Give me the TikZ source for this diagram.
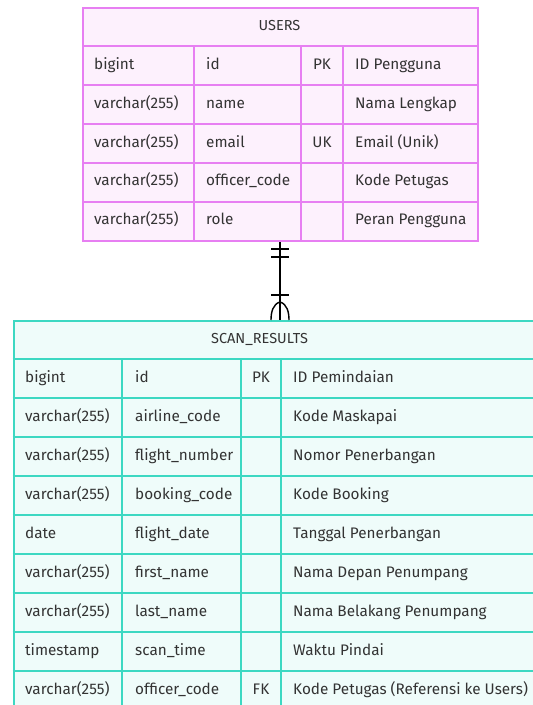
\documentclass[tikz,border=0pt]{standalone}
\usepackage{fontspec}
\setmainfont{Fira Sans}
\definecolor{ubord}{HTML}{E77FF2}
\definecolor{ufill}{HTML}{FDF1FD}
\definecolor{sbord}{HTML}{3DD8C2}
\definecolor{sfill}{HTML}{EFFCFA}
\definecolor{txt}{HTML}{333333}
\tikzset{
  cell/.style={anchor=west, inner sep=0pt, text height=11pt, text depth=3pt, text=txt, font=\fontsize{15.3}{17}\selectfont},
  keycell/.style={anchor=center, inner sep=0pt, text height=11pt, text depth=3pt, text=txt, font=\fontsize{15.3}{17}\selectfont},
  hdr/.style={anchor=center, inner sep=0pt, text height=11pt, text depth=3pt, text=txt, font=\fontsize{14.5}{17}\selectfont},
  ugrid/.style={draw=ubord, line width=2pt},
  sgrid/.style={draw=sbord, line width=2pt},
  rel/.style={draw=black, line width=1.4pt},
}
\begin{document}
\begin{tikzpicture}[x=1pt,y=-1pt]
\useasboundingbox (0,0) rectangle (533,705);
\fill[white] (0,0) rectangle (533,705);
% ---------- USERS ----------
\fill[black!18] (84,9) rectangle (479,242);
\node[ugrid, fill=ufill, minimum width=395pt, minimum height=233pt, inner sep=0pt, anchor=north west] (usersT) at (82,7) {};
\node[hdr] (usersH) at (279.5,26.5) {USERS};
\foreach \y in {46,85,124,163,202} \draw[ugrid] (82,\y) -- (477,\y);
\foreach \x in {194,301,343} \draw[ugrid] (\x,46) -- (\x,240);
\foreach \i/\a/\b/\c/\d in {0/bigint/id/PK/ID Pengguna,
  1/varchar(255)/name//Nama Lengkap,
  2/varchar(255)/email/UK/Email (Unik),
  3/varchar(255)/officer\_code//Kode Petugas,
  4/varchar(255)/role//Peran Pengguna}{
  \pgfmathsetmacro\yy{65.5+38.8*\i}
  \node[cell] (u\i a) at (94,\yy) {\a};
  \node[cell] (u\i b) at (206,\yy) {\b};
  \node[keycell] (u\i c) at (322,\yy) {\c};
  \node[cell] (u\i d) at (355,\yy) {\d};
}
% ---------- SCAN_RESULTS ----------
\node[sgrid, fill=sfill, minimum width=533pt, minimum height=400pt, inner sep=0pt, anchor=north west] (scanT) at (12.5,320) {};
\node[hdr] (scanH) at (259.5,339.5) {SCAN\_RESULTS};
\foreach \y in {359,398,437,476,515,554,593,632,671} \draw[sgrid] (12.5,\y) -- (545,\y);
\foreach \x in {122,241,281} \draw[sgrid] (\x,359) -- (\x,720);
\foreach \i/\a/\b/\c/\d in {0/bigint/id/PK/ID Pemindaian,
  1/varchar(255)/airline\_code//Kode Maskapai,
  2/varchar(255)/flight\_number//Nomor Penerbangan,
  3/varchar(255)/booking\_code//Kode Booking,
  4/date/flight\_date//Tanggal Penerbangan,
  5/varchar(255)/first\_name//Nama Depan Penumpang,
  6/varchar(255)/last\_name//Nama Belakang Penumpang,
  7/timestamp/scan\_time//Waktu Pindai,
  8/varchar(255)/officer\_code/FK/Kode Petugas (Referensi ke Users)}{
  \pgfmathsetmacro\yy{378.5+39*\i}
  \node[cell] (s\i a) at (25,\yy) {\a};
  \node[cell] (s\i b) at (135,\yy) {\b};
  \node[keycell] (s\i c) at (261,\yy) {\c};
  \node[cell] (s\i d) at (293,\yy) {\d};
}
% ---------- relationship ----------
\coordinate (top) at ([xshift=-0.5pt]usersT.south);
\coordinate (bot) at (top |- scanT.north);
\draw[rel] (top) -- (bot);
\draw[rel] ([shift={(-9,7)}]top) -- ([shift={(9,7)}]top);
\draw[rel] ([shift={(-9,15)}]top) -- ([shift={(9,15)}]top);
\draw[rel] ([shift={(-9,-25)}]bot) -- ([shift={(9,-25)}]bot);
\draw[rel] ([shift={(0,-18)}]bot) .. controls ([shift={(-7,-16)}]bot) and ([shift={(-9,-8)}]bot) .. ([shift={(-9,0)}]bot);
\draw[rel] ([shift={(0,-18)}]bot) .. controls ([shift={(7,-16)}]bot) and ([shift={(9,-8)}]bot) .. ([shift={(9,0)}]bot);
\end{tikzpicture}
\end{document}
